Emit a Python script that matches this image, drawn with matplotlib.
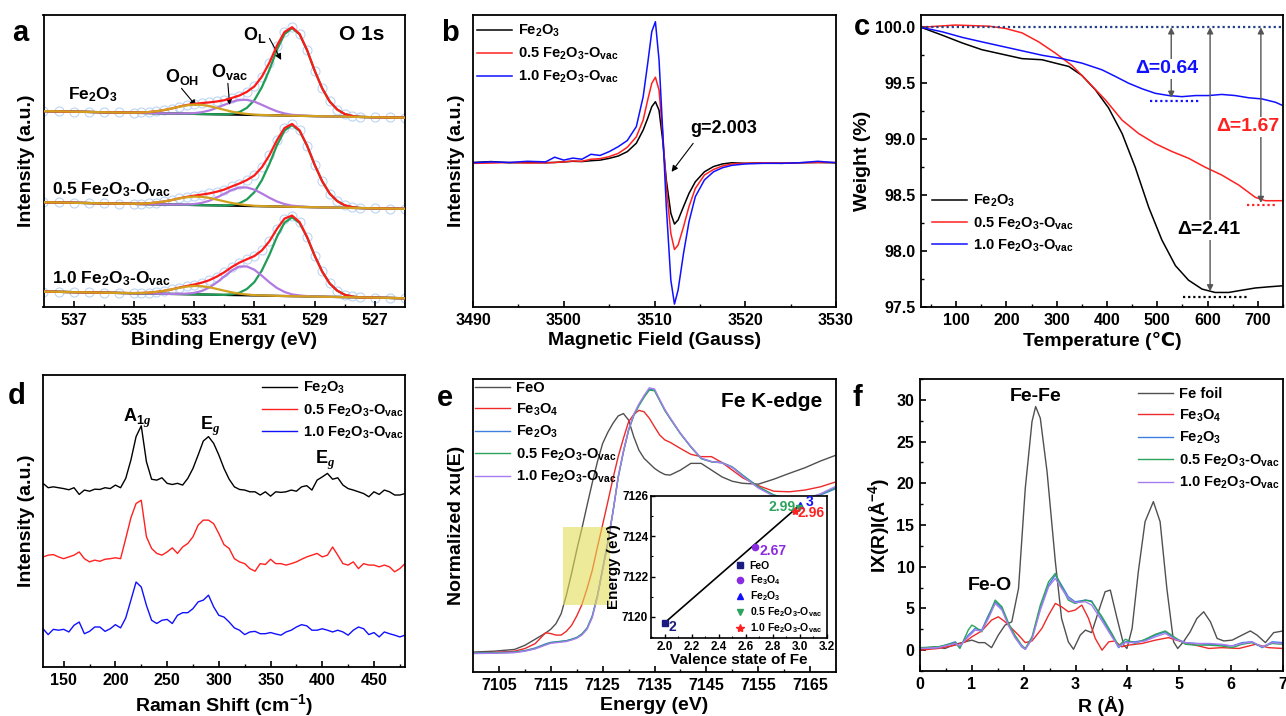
import numpy as np
import matplotlib.pyplot as plt
from matplotlib.patches import Rectangle
from matplotlib.ticker import MultipleLocator

plt.rcParams['font.family'] = ['Liberation Sans', 'DejaVu Sans']
plt.rcParams['font.weight'] = 'bold'
plt.rcParams['axes.labelweight'] = 'bold'
plt.rcParams['mathtext.fontset'] = 'custom'
plt.rcParams['mathtext.rm'] = 'Liberation Sans:bold'
plt.rcParams['mathtext.bf'] = 'Liberation Sans:bold'
plt.rcParams['mathtext.it'] = 'Liberation Serif:italic:bold'
plt.rcParams['mathtext.default'] = 'regular'
plt.rcParams['xtick.direction'] = 'in'
plt.rcParams['ytick.direction'] = 'in'
plt.rcParams['axes.linewidth'] = 1.3

FE2O3 = 'Fe$_2$O$_3$'
S05 = '0.5 Fe$_2$O$_3$-O$_{vac}$'
S10 = '1.0 Fe$_2$O$_3$-O$_{vac}$'

# ---------------- (a) XPS O 1s ----------------
xps_be = [538.0, 537.5, 537.0, 536.5, 536.0, 535.5, 535.0, 534.75, 534.5, 534.25,
          534.0, 533.75, 533.5, 533.25, 533.0, 532.75, 532.5, 532.25, 532.0, 531.75,
          531.5, 531.25, 531.0, 530.75, 530.5, 530.25, 530.0, 529.75, 529.5, 529.25,
          529.0, 528.75, 528.5, 528.25, 528.0, 527.75, 527.5, 527.0, 526.5, 526.0]
# background slope (same for the three spectra)
xps_bg = [2.28, 2.19, 2.09, 2.0, 1.9, 1.81, 1.71, 1.66, 1.62, 1.57,
          1.52, 1.47, 1.43, 1.38, 1.33, 1.28, 1.24, 1.19, 1.14, 1.09,
          1.05, 1.0, 0.95, 0.9, 0.86, 0.81, 0.76, 0.71, 0.67, 0.62,
          0.57, 0.52, 0.48, 0.43, 0.38, 0.33, 0.29, 0.19, 0.1, 0.0]
# normalised peak shapes of the fitted components
shape_ol = [0, 0, 0, 0, 0, 0, 0, 0, 0, 0,
            0, 0, 0, 0, 0, 0, 0, 0, 0, 0.01,
            0.03, 0.08, 0.17, 0.32, 0.52, 0.75, 0.93, 1.0, 0.93, 0.75,
            0.52, 0.32, 0.17, 0.08, 0.03, 0.01, 0, 0, 0, 0]
shape_ovac = [0, 0, 0, 0, 0, 0, 0, 0, 0, 0,
              0, 0, 0.01, 0.02, 0.05, 0.12, 0.24, 0.42, 0.63, 0.84,
              0.98, 0.99, 0.88, 0.68, 0.46, 0.27, 0.14, 0.06, 0.03, 0.01,
              0, 0, 0, 0, 0, 0, 0, 0, 0, 0]
shape_ooh = [0, 0, 0, 0, 0, 0, 0.02, 0.05, 0.11, 0.21,
             0.35, 0.53, 0.73, 0.90, 0.99, 0.98, 0.87, 0.69, 0.50, 0.32,
             0.18, 0.10, 0.04, 0.02, 0.01, 0, 0, 0, 0, 0,
             0, 0, 0, 0, 0, 0, 0, 0, 0, 0]
xps_names = [FE2O3, S05, S10]
xps_offset = [64.8, 33.6, 3.0]
h_ol = [30.0, 28.0, 27.0]
h_ovac = [5.2, 6.4, 10.0]
h_ooh = [3.2, 2.9, 2.9]

# ---------------- (b) EPR ----------------
epr_field = [3490, 3492, 3494, 3496, 3498, 3499, 3500, 3501, 3502, 3503,
             3504, 3505, 3506, 3507, 3508, 3508.75, 3509.25, 3509.7, 3510.1, 3510.5,
             3510.9, 3511.3, 3511.8, 3512.2, 3512.6, 3513.2, 3513.8, 3514.5, 3515.5, 3516.5,
             3517.5, 3518.5, 3520, 3522, 3524, 3526, 3528, 3530]
epr_fe2o3 = [49.5, 49.8, 49.4, 49.5, 49.4, 49.5, 49.7, 49.9, 49.8, 50.1,
             50.3, 50.9, 51.7, 53.2, 56.1, 60.6, 64.6, 68.6, 70.3, 67.4,
             57.2, 43.5, 32.1, 28.4, 29.8, 34.4, 38.9, 42.9, 46.3, 48.1,
             49.0, 49.4, 49.2, 49.4, 49.2, 49.4, 49.5, 49.4]
epr_05 = [49.2, 49.3, 49.5, 49.3, 49.4, 49.5, 49.7, 50.0, 49.9, 50.6,
          50.8, 51.5, 52.6, 54.7, 58.3, 64.0, 70.9, 76.6, 78.7, 74.3,
          59.5, 41.2, 25.2, 19.7, 21.2, 27.5, 34.4, 40.6, 45.2, 47.1,
          48.3, 49.0, 49.2, 49.4, 49.3, 49.4, 49.5, 49.5]
epr_10 = [49.4, 49.7, 49.5, 49.9, 49.7, 51.3, 50.3, 51.0, 50.6, 52.3,
          51.9, 53.2, 54.9, 57.0, 61.8, 72.0, 83.4, 94.3, 97.7, 84.6,
          60.6, 34.4, 9.2, 1.0, 5.8, 18.4, 29.2, 37.8, 43.5, 46.3,
          47.7, 48.5, 49.0, 49.2, 49.2, 49.4, 49.9, 49.4]

# ---------------- (c) TGA ----------------
tga_t_fe2o3 = [30, 72, 112, 151, 191, 231, 271, 297, 324, 350, 377, 403, 430,
               456, 483, 509, 536, 562, 589, 615, 642, 668, 695, 721, 750]
tga_w_fe2o3 = [100.0, 99.93, 99.86, 99.80, 99.76, 99.72, 99.71, 99.68, 99.65, 99.57,
               99.44, 99.28, 99.05, 98.75, 98.39, 98.10, 97.87, 97.74, 97.66, 97.63,
               97.63, 97.65, 97.67, 97.68, 97.69]
tga_t_05 = [30, 98, 165, 198, 231, 264, 297, 330, 363, 397, 430,
            463, 496, 529, 562, 595, 628, 662, 695, 715, 750]
tga_w_05 = [100.0, 100.02, 100.01, 99.99, 99.95, 99.87, 99.77, 99.66, 99.51, 99.35,
            99.17, 99.05, 98.96, 98.89, 98.83, 98.75, 98.68, 98.59, 98.48, 98.45, 98.45]
tga_t_10 = [30, 72, 112, 151, 191, 231, 271, 311, 350, 390, 417, 443,
            470, 496, 523, 549, 576, 602, 628, 655, 682, 708, 735, 750]
tga_w_10 = [100.0, 99.96, 99.91, 99.87, 99.83, 99.79, 99.75, 99.72, 99.68, 99.62,
            99.56, 99.50, 99.45, 99.41, 99.39, 99.38, 99.39, 99.39, 99.40, 99.39,
            99.37, 99.36, 99.33, 99.30]
tga_loss = ['0.64', '1.67', '2.41']
tga_loss_t = [527.7, 706, 605]
tga_loss_low = [99.37, 98.43, 97.64]

# ---------------- (d) Raman ----------------
raman_shift = np.arange(130, 481, 5)
raman_fe2o3 = [62.9, 61.4, 61.7, 61.4, 61.1, 60.7, 61.4, 59.1, 60.6, 60.2,
               60.9, 60.8, 61.4, 61.1, 62.3, 61.4, 64.6, 70.9, 78.9, 82.6,
               70.3, 64.3, 64.0, 64.8, 62.9, 62.5, 62.9, 62.3, 64.6, 68.0,
               72.6, 77.4, 78.9, 76.6, 72.6, 68.0, 64.3, 61.7, 60.8, 60.6,
               60.0, 60.0, 58.9, 60.0, 58.5, 60.0, 59.8, 60.0, 60.6, 60.2,
               61.7, 62.1, 60.6, 64.0, 65.1, 66.3, 64.3, 64.8, 62.3, 61.1,
               60.6, 60.0, 59.4, 58.3, 60.0, 59.1, 60.6, 60.0, 58.9, 58.9,
               59.4]
raman_05 = [37.7, 38.3, 38.5, 37.7, 37.1, 37.7, 38.3, 39.4, 37.1, 36.0,
            36.6, 36.2, 36.9, 37.1, 37.4, 37.1, 44.0, 51.1, 56.0, 57.1,
            44.6, 40.6, 38.9, 38.3, 39.4, 40.8, 38.9, 41.1, 42.3, 44.6,
            48.6, 50.3, 50.3, 49.1, 45.7, 41.9, 40.6, 37.1, 36.0, 35.4,
            33.7, 32.8, 35.4, 35.1, 36.9, 35.4, 35.4, 34.9, 35.4, 36.0,
            36.9, 37.7, 38.3, 38.9, 37.7, 38.3, 41.1, 38.3, 35.4, 34.9,
            36.0, 33.7, 35.4, 34.9, 34.9, 34.3, 34.9, 34.3, 32.6, 33.7,
            35.4]
raman_10 = [13.1, 11.1, 12.9, 12.6, 12.9, 12.0, 14.3, 15.4, 11.4, 12.2,
            13.7, 13.7, 12.2, 13.1, 14.5, 13.4, 16.8, 22.9, 29.1, 27.4,
            21.1, 16.0, 14.9, 16.0, 16.3, 14.9, 17.7, 18.6, 18.6, 20.0,
            22.3, 22.9, 24.6, 20.6, 17.7, 17.1, 15.4, 13.4, 12.6, 11.1,
            12.0, 12.2, 11.4, 11.4, 11.8, 11.3, 10.9, 12.0, 12.6, 13.7,
            14.5, 14.1, 12.6, 12.6, 13.1, 12.6, 12.0, 12.6, 12.0, 10.9,
            12.6, 13.7, 13.1, 11.1, 11.8, 10.3, 12.0, 11.4, 10.9, 10.3,
            10.9]

# ---------------- (e) XANES ----------------
xanes_e = [7100, 7104, 7108, 7110, 7112, 7114, 7115, 7116, 7117, 7118,
           7119, 7120, 7121, 7122, 7123, 7124, 7125, 7126, 7127, 7128,
           7129, 7130, 7131, 7132, 7133, 7134, 7135, 7136, 7137, 7138,
           7140, 7142, 7144, 7146, 7148, 7150, 7152, 7155, 7158, 7161,
           7164, 7167, 7170]
xanes_feo = [6.8, 7.1, 7.7, 9.1, 11.2, 13.3, 14.6, 16.5, 19.9, 26.2,
             33.6, 41.6, 49.0, 56.9, 64.6, 71.8, 78.0, 81.8, 84.9, 87.4,
             88.2, 86.0, 80.3, 75.7, 72.9, 71.2, 69.5, 68.3, 67.4, 67.2,
             68.9, 71.2, 71.2, 68.9, 66.6, 65.1, 64.4, 64.1, 65.8, 67.8,
             69.7, 72.0, 74.0]
xanes_fe3o4 = [6.5, 6.7, 7.1, 8.0, 9.7, 13.4, 13.1, 12.6, 12.6, 13.9,
               15.9, 19.1, 23.0, 28.5, 34.7, 42.7, 50.3, 58.1, 66.1, 73.5,
               79.7, 85.4, 87.9, 89.3, 88.8, 86.6, 83.7, 80.9, 79.2, 78.4,
               76.3, 74.3, 73.5, 73.5, 71.5, 68.9, 66.3, 63.6, 61.7, 61.5,
               62.1, 63.2, 64.9]
xanes_fe2o3 = [6.5, 6.6, 6.8, 7.3, 8.2, 9.6, 10.1, 10.3, 10.5, 10.7,
               11.2, 11.8, 13.0, 15.0, 19.1, 26.2, 35.3, 44.4, 54.9, 66.6,
               75.2, 82.6, 87.7, 91.1, 94.0, 96.5, 96.2, 92.8, 89.4, 86.6,
               81.4, 76.9, 72.9, 71.8, 71.5, 70.0, 67.2, 63.2, 60.4, 59.0,
               59.0, 60.4, 62.6]
xanes_05 = [6.4, 6.5, 6.7, 7.2, 8.0, 9.4, 10.0, 10.2, 10.4, 10.6,
            11.1, 11.7, 12.9, 14.9, 19.0, 26.0, 35.1, 44.2, 54.7, 66.4,
            75.0, 82.4, 87.5, 90.9, 93.8, 96.2, 96.0, 92.6, 89.2, 86.5,
            81.3, 76.8, 72.8, 71.7, 71.4, 69.9, 67.1, 63.2, 60.4, 59.1,
            59.2, 60.7, 63.0]
xanes_10 = [6.3, 6.4, 6.6, 7.1, 7.9, 9.2, 9.8, 10.0, 10.2, 10.4,
            10.9, 11.5, 12.6, 14.6, 18.6, 25.6, 34.8, 44.0, 54.6, 66.5,
            75.3, 82.8, 88.0, 91.5, 94.4, 97.0, 96.6, 93.0, 89.6, 86.8,
            81.5, 77.0, 73.0, 71.8, 71.4, 69.8, 66.8, 62.8, 60.0, 58.8,
            59.0, 60.8, 63.4]
# inset: edge energy vs valence
val_names = ['FeO', 'Fe$_3$O$_4$', FE2O3, S05, S10]
val_state = [2.0, 2.67, 3.0, 2.99, 2.96]
val_edge = [7119.7, 7123.45, 7125.55, 7125.4, 7125.25]
val_text = ['2', '2.67', '3', '2.99', '2.96']

# ---------------- (f) EXAFS ----------------
r_foil = [0.0, 0.29, 0.48, 0.68, 0.87, 1.0, 1.13, 1.25, 1.38, 1.51,
          1.64, 1.77, 1.90, 2.03, 2.16, 2.23, 2.32, 2.45, 2.61, 2.73,
          2.86, 2.96, 3.09, 3.19, 3.31, 3.44, 3.57, 3.67, 3.80, 3.93,
          3.99, 4.09, 4.21, 4.34, 4.50, 4.63, 4.76, 4.89, 4.97, 5.08,
          5.21, 5.34, 5.47, 5.60, 5.73, 5.86, 6.02, 6.21, 6.37, 6.50,
          6.66, 6.82, 7.0]
ft_foil = [0.2, 0.4, 0.2, 0.7, 1.0, 1.2, 0.9, 0.9, 0.3, 1.8,
           3.0, 3.4, 7.4, 19.4, 27.4, 29.2, 27.8, 21.4, 10.6, 3.8,
           1.0, 0.1, 1.8, 2.4, 2.1, 4.6, 7.0, 7.2, 3.8, 0.6,
           0.2, 2.6, 9.4, 15.4, 17.8, 15.4, 7.4, 1.0, 0.2, 1.0,
           2.2, 3.8, 4.6, 3.4, 1.4, 1.1, 1.2, 1.8, 2.3, 1.8,
           0.9, 2.1, 2.3]
r_fe3o4 = [0.0, 0.35, 0.68, 0.87, 1.0, 1.19, 1.38, 1.51, 1.64, 1.77,
           1.90, 2.03, 2.16, 2.35, 2.48, 2.61, 2.73, 2.86, 2.99, 3.12,
           3.25, 3.38, 3.51, 3.64, 3.76, 3.89, 4.02, 4.28, 4.54, 4.79,
           5.05, 5.31, 5.57, 5.82, 6.15, 6.47, 6.72, 7.0]
ft_fe3o4 = [0.0, 0.2, 0.6, 1.0, 1.6, 2.3, 3.6, 4.0, 3.4, 2.6,
            1.8, 0.9, 1.1, 2.6, 4.2, 5.6, 5.2, 4.6, 4.8, 5.4,
            3.8, 1.4, 0.0, 1.0, 1.1, 0.4, 0.6, 0.8, 1.2, 1.5,
            1.0, 0.6, 0.2, 0.3, 0.2, 0.7, 0.3, 0.2]
r_ox = [0.0, 0.35, 0.68, 0.77, 0.93, 1.0, 1.06, 1.19, 1.32, 1.45,
        1.58, 1.71, 1.83, 1.96, 2.03, 2.16, 2.32, 2.48, 2.61, 2.73,
        2.86, 2.99, 3.19, 3.31, 3.51, 3.70, 3.83, 3.96, 4.15, 4.34,
        4.54, 4.73, 4.92, 5.12, 5.31, 5.57, 5.82, 6.02, 6.21, 6.40,
        6.60, 6.79, 7.0]
ft_fe2o3 = [0.2, 0.3, 1.0, 0.4, 1.8, 2.2, 2.6, 2.4, 4.2, 5.8,
            5.0, 3.0, 1.6, 0.4, 0.1, 1.4, 5.0, 7.8, 9.0, 7.8,
            6.4, 5.8, 6.0, 5.9, 3.8, 1.8, 0.3, 1.0, 1.0, 1.2,
            1.8, 2.2, 1.4, 0.9, 0.8, 0.7, 0.6, 0.5, 0.9, 1.0,
            0.3, 1.0, 0.9]
ft_05 = [0.3, 0.4, 0.9, 0.2, 2.4, 3.0, 2.8, 2.2, 4.0, 6.0,
         5.2, 3.2, 1.8, 0.6, 0.2, 1.6, 5.4, 8.2, 9.2, 7.6,
         6.0, 5.6, 6.0, 5.8, 4.0, 2.0, 0.5, 1.3, 0.8, 1.3,
         1.9, 2.3, 1.5, 0.7, 0.6, 0.6, 0.5, 0.3, 0.7, 0.9,
         0.4, 0.8, 0.7]
ft_10 = [0.2, 0.3, 0.8, 0.5, 1.6, 2.0, 2.4, 2.3, 3.8, 5.6,
         4.8, 2.9, 1.5, 0.5, 0.1, 1.3, 4.8, 7.6, 8.6, 7.4,
         6.2, 5.7, 5.8, 5.4, 3.5, 1.6, 0.4, 0.9, 0.9, 1.1,
         1.6, 2.0, 1.3, 0.9, 0.8, 0.8, 0.7, 0.5, 0.8, 1.0,
         0.4, 0.9, 0.8]

# ---------------------------------------------------------------
W, H = 1286, 716
fig = plt.figure(figsize=(W / 100, H / 100), dpi=100)


def box(l, t, r, b):
    return [l / W, 1 - b / H, (r - l) / W, (b - t) / H]


def style(ax):
    ax.tick_params(which='major', length=4, width=1.2, labelsize=11.5, pad=4)
    ax.tick_params(which='minor', length=2.2, width=1.0)
    ax.xaxis.label.set_size(14)
    ax.yaxis.label.set_size(14)


def legend(ax, x, y, fs=10.5, sp=0.4, hl=2.4, **kw):
    return ax.legend(loc='upper left', bbox_to_anchor=(x / W, 1 - y / H),
                     bbox_transform=fig.transFigure, frameon=False, borderpad=0,
                     borderaxespad=0, handlelength=hl, handletextpad=0.4,
                     labelspacing=sp, prop={'size': fs, 'weight': 'bold'}, **kw)


def panel(letter, x, y):
    fig.text(x / W, 1 - y / H, letter, fontsize=21, fontweight='bold',
             ha='center', va='center')


# ---- a
ax = fig.add_axes(box(43.5, 15, 405, 307))
be = np.array(xps_be)
bg = np.array(xps_bg)
for k in range(3):
    base = xps_offset[k] + bg
    ol = base + h_ol[k] * np.array(shape_ol)
    ovac = base + h_ovac[k] * np.array(shape_ovac)
    ooh = base + h_ooh[k] * np.array(shape_ooh)
    env = ol + ovac + ooh - 2 * base
    ax.plot(be, env, 'o', mfc='none', mec='#bcd5f3', ms=6.5, mew=0.8, zorder=1)
    ax.plot(be, base, color='k', lw=1.6, zorder=2)
    ax.plot(be, ol, color='#1f9c55', lw=1.6, zorder=3)
    ax.plot(be, ovac, color='#b27ae0', lw=1.6, zorder=3)
    ax.plot(be, env, color='#ff1a1a', lw=1.6, zorder=4)
    ax.plot(be, ooh, color='#d2a01e', lw=1.6, zorder=5)
ax.set_xlim(538, 526)
ax.set_ylim(0, 100)
ax.set_xticks([537, 535, 533, 531, 529, 527])
ax.set_xticks([536, 534, 532, 530, 528], minor=True)
ax.set_yticks([])
ax.set_xlabel('Binding Energy (eV)', labelpad=3)
ax.set_ylabel('Intensity (a.u.)', labelpad=6)
style(ax)
ax.text(537.18, 72.6, xps_names[0], fontsize=12.5, ha='left', va='center')
ax.text(537.73, 40.1, xps_names[1], fontsize=12.5, ha='left', va='center')
ax.text(537.73, 9.8, xps_names[2], fontsize=12.5, ha='left', va='center')
ax.text(526.7, 93.2, 'O 1s', fontsize=15, ha='right', va='center')
ax.text(531.0, 93.2, 'O$_L$', fontsize=13, ha='center', va='center')
ax.text(533.4, 78.9, 'O$_{OH}$', fontsize=13, ha='center', va='center')
ax.text(531.82, 80.6, 'O$_{vac}$', fontsize=13, ha='center', va='center')
arr = dict(arrowstyle='-|>', color='k', lw=0.8, mutation_scale=9, shrinkA=0, shrinkB=0)
ax.annotate('', xy=(530.11, 84.6), xytext=(530.5, 92.0), arrowprops=arr)
ax.annotate('', xy=(532.93, 68.8), xytext=(533.42, 74.9), arrowprops=arr)
ax.annotate('', xy=(531.82, 69.2), xytext=(531.88, 76.6), arrowprops=arr)
panel('a', 20, 33)

# ---- b
ax = fig.add_axes(box(473, 15, 836, 307))
ax.plot(epr_field, epr_fe2o3, color='k', lw=1.1, label=FE2O3)
ax.plot(epr_field, epr_05, color='#ff2020', lw=1.1, label=S05)
ax.plot(epr_field, epr_10, color='#1010ff', lw=1.1, label=S10)
ax.set_xlim(3490, 3530)
ax.set_ylim(0, 100)
ax.xaxis.set_major_locator(MultipleLocator(10))
ax.xaxis.set_minor_locator(MultipleLocator(5))
ax.set_yticks([])
ax.set_xlabel('Magnetic Field (Gauss)', labelpad=3)
ax.set_ylabel('Intensity (a.u.)', labelpad=6)
style(ax)
ax.text(3513.9, 61.2, 'g=2.003', fontsize=13, ha='left', va='center')
ax.annotate('', xy=(3511.88, 46.3), xytext=(3514.26, 56.05), arrowprops=arr)
legend(ax, 476.7, 23, sp=0.45)
panel('b', 450, 33)

# ---- c
ax = fig.add_axes(box(921, 15, 1283, 307))
ax.plot(tga_t_fe2o3, tga_w_fe2o3, color='k', lw=1.1, label=FE2O3)
ax.plot(tga_t_05, tga_w_05, color='#ff2020', lw=1.1, label=S05)
ax.plot(tga_t_10, tga_w_10, color='#1010ff', lw=1.1, label=S10)
dot = (0, (1, 1.3))
ax.plot([30, 750], [100.0, 100.0], ls=dot, color='#23418a', lw=1.6)
ax.plot([486, 582], [tga_loss_low[0] - 0.03] * 2, ls=dot, color='#1010ff', lw=1.6)
ax.plot([678, 738], [tga_loss_low[1] - 0.02] * 2, ls=dot, color='#ff2020', lw=1.6)
ax.plot([552, 681], [tga_loss_low[2] - 0.05] * 2, ls=dot, color='k', lw=1.6)
tcol = ['#1010ff', '#ff2020', 'k']
ty = [99.63, 99.11, 98.19]
tx = [519, 681, 603]
for i in range(3):
    ax.annotate('', xy=(tga_loss_t[i], tga_loss_low[i]), xytext=(tga_loss_t[i], 100.0),
                arrowprops=dict(arrowstyle='<|-|>', color='#555555', lw=1.0,
                                mutation_scale=9, shrinkA=0, shrinkB=0))
    ax.text(tx[i], ty[i], '\u0394=' + tga_loss[i], color=tcol[i], fontsize=14,
            ha='center', va='center',
            bbox=dict(facecolor='white', edgecolor='none', pad=1.0))
ax.set_xlim(30, 750)
ax.set_ylim(97.5, 100.11)
ax.xaxis.set_major_locator(MultipleLocator(100))
ax.xaxis.set_minor_locator(MultipleLocator(50))
ax.yaxis.set_major_locator(MultipleLocator(0.5))
ax.yaxis.set_minor_locator(MultipleLocator(0.25))
ax.yaxis.set_major_formatter(plt.FormatStrFormatter('%.1f'))
ax.set_xlabel('Temperature (\u2103)', labelpad=3)
ax.set_ylabel('Weight (%)', labelpad=3)
style(ax)
legend(ax, 932, 193, sp=0.4)
panel('c', 862, 27)

# ---- d
ax = fig.add_axes(box(43, 375, 405, 667))
ax.plot(raman_shift, raman_fe2o3, color='k', lw=1.0, label=FE2O3)
ax.plot(raman_shift, raman_05, color='#ff2020', lw=1.0, label=S05)
ax.plot(raman_shift, raman_10, color='#1010ff', lw=1.0, label=S10)
ax.set_xlim(130, 480)
ax.set_ylim(0, 100)
ax.xaxis.set_major_locator(MultipleLocator(50))
ax.xaxis.set_minor_locator(MultipleLocator(25))
ax.set_yticks([])
ax.set_xlabel('Raman Shift (cm$^{-1}$)', labelpad=3)
ax.set_ylabel('Intensity (a.u.)', labelpad=6)
style(ax)
ax.text(221, 85.1, 'A$_{\\mathit{1g}}$', fontsize=13, ha='center', va='center')
ax.text(291.3, 82.3, 'E$_{\\mathit{g}}$', fontsize=13, ha='center', va='center')
ax.text(403.2, 70.9, 'E$_{\\mathit{g}}$', fontsize=13, ha='center', va='center')
legend(ax, 261.7, 380, sp=0.4)
panel('d', 17, 396)

# ---- e
ax = fig.add_axes(box(473, 379, 836, 672))
ax.plot(xanes_e, xanes_feo, color='#505050', lw=1.0, label='FeO')
ax.plot(xanes_e, xanes_fe3o4, color='#ee2a2a', lw=1.0, label='Fe$_3$O$_4$')
ax.plot(xanes_e, xanes_fe2o3, color='#3f7fe0', lw=1.0, label=FE2O3)
ax.plot(xanes_e, xanes_05, color='#2ea35e', lw=1.0, label=S05)
ax.plot(xanes_e, xanes_10, color='#a77cf0', lw=1.0, label=S10)
ax.add_patch(Rectangle((7117.26, 23.0), 9.14, 26.5, facecolor='#e2dc55',
                       edgecolor='none', alpha=0.6, zorder=5))
ax.set_xlim(7100, 7170)
ax.set_ylim(0, 100)
ax.set_xticks([7105, 7115, 7125, 7135, 7145, 7155, 7165])
ax.set_xticks([7110, 7120, 7130, 7140, 7150, 7160], minor=True)
ax.set_yticks([])
ax.set_xlabel('Energy (eV)', labelpad=3)
ax.set_ylabel('Normalized xu(E)', labelpad=6)
style(ax)
ax.text(7167.3, 92.3, 'Fe K-edge', fontsize=15, ha='right', va='center')
legend(ax, 475, 381, sp=0.42)
panel('e', 445, 398)

# inset
axi = fig.add_axes(box(651, 496, 827, 638))
axi.plot([val_state[0], val_state[2]], [val_edge[0], val_edge[2]], color='k', lw=1.2)
mk = ['s', 'o', '^', 'v', '*']
mc = ['#1c1c80', '#8a2be2', '#1010ff', '#2ea35e', '#ff2020']
ms = [4, 4.5, 4.5, 4.5, 6]
for i in range(5):
    axi.plot(val_state[i], val_edge[i], mk[i], color=mc[i], ms=ms[i], ls='none',
             label=val_names[i])
tpos = [(2.03, 7119.5, 'left'), (2.705, 7123.25, 'left'), (3.04, 7125.72, 'left'),
        (2.965, 7125.45, 'right'), (2.985, 7125.15, 'left')]
for i in range(5):
    axi.text(tpos[i][0], tpos[i][1], val_text[i], color=mc[i], fontsize=10,
             ha=tpos[i][2], va='center')
axi.set_xlim(1.9, 3.2)
axi.set_ylim(7118.95, 7126)
axi.set_xticks([2.0, 2.2, 2.4, 2.6, 2.8, 3.0, 3.2])
axi.set_yticks([7120, 7122, 7124, 7126])
axi.yaxis.set_minor_locator(MultipleLocator(1))
axi.xaxis.set_minor_locator(MultipleLocator(0.1))
axi.tick_params(which='major', length=3, width=1.0, labelsize=8.5, pad=2)
axi.tick_params(which='minor', length=1.5, width=0.8)
for s in axi.spines.values():
    s.set_linewidth(1.2)
axi.set_xlabel('Valence state of Fe', fontsize=11, labelpad=0)
axi.set_ylabel('Energy (eV)', fontsize=11, labelpad=1)
legend(axi, 735, 561, fs=7.5, sp=0.22, hl=1.0)

# ---- f
ax = fig.add_axes(box(920, 379, 1283, 671))
ax.plot(r_foil, ft_foil, color='#505050', lw=1.0, label='Fe foil')
ax.plot(r_fe3o4, ft_fe3o4, color='#ee2a2a', lw=1.0, label='Fe$_3$O$_4$')
ax.plot(r_ox, ft_fe2o3, color='#3f7fe0', lw=1.0, label=FE2O3)
ax.plot(r_ox, ft_05, color='#2ea35e', lw=1.0, label=S05)
ax.plot(r_ox, ft_10, color='#a77cf0', lw=1.0, label=S10)
ax.set_xlim(0, 7)
ax.set_ylim(-2.5, 32.5)
ax.xaxis.set_major_locator(MultipleLocator(1))
ax.xaxis.set_minor_locator(MultipleLocator(0.5))
ax.yaxis.set_major_locator(MultipleLocator(5))
ax.yaxis.set_minor_locator(MultipleLocator(2.5))
ax.set_xlabel('R (\u00c5)', labelpad=3)
ax.set_ylabel('IX(R)I(\u00c5$^{-4}$)', labelpad=3)
style(ax)
ax.text(2.23, 30.4, 'Fe-Fe', fontsize=14, ha='center', va='center')
ax.text(1.35, 7.8, 'Fe-O', fontsize=14, ha='center', va='center')
legend(ax, 1138, 387, sp=0.42)
panel('f', 857, 398)

fig.savefig('out.png', dpi=100)
